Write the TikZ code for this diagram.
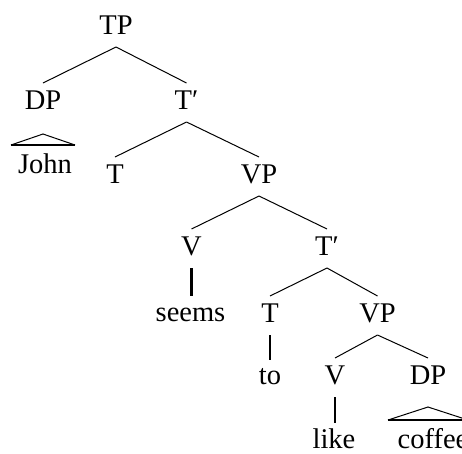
\documentclass[tikz,border=0pt]{standalone}
\usepackage{fontspec}
\setmainfont{Liberation Serif}
\usetikzlibrary{calc}
\newcommand{\lblfont}{\fontsize{28.5}{30}\selectfont}
\tikzset{
  lab/.style={anchor=base, inner sep=0pt, font=\lblfont},
  branch/.style={line width=1pt},
  stem/.style={line width=2.3pt},
  roofside/.style={line width=1pt},
  roofbase/.style={line width=2pt},
}
\begin{document}
\begin{tikzpicture}[x=1pt,y=-1pt]
\useasboundingbox (0,0) rectangle (462,453);
\clip (0,0) rectangle (462,453);
% nodes
\node[lab] (TP)    at (116,34)    {TP};
\node[lab] (DPa)   at (43,109)    {DP};
\node[lab] (Tba)   at (186.5,109) {T′};
\node[lab] (John)  at (45,173)    {John};
\node[lab] (Ta)    at (115,183)   {T};
\node[lab] (VPa)   at (259,183)   {VP};
\node[lab] (Va)    at (191.5,255) {V};
\node[lab] (Tbb)   at (327,255)   {T′};
\node[lab] (seems) at (190.5,321) {seems};
\node[lab] (Tb)    at (270,322)   {T};
\node[lab] (VPb)   at (377.5,322) {VP};
\node[lab] (to)    at (270,384.5) {to};
\node[lab] (Vb)    at (335,384)   {V};
\node[lab] (DPb)   at (428,384)   {DP};
\node[lab] (like)  at (334,448)   {like};
\node[lab] (coffee) at (433,448)  {coffee};
% branches
\foreach \p/\c in {TP/DPa, TP/Tba, Tba/Ta, Tba/VPa, VPa/Va, VPa/Tbb, Tbb/Tb, Tbb/VPb, VPb/Vb, VPb/DPb}{
  \draw[branch] ([yshift=-13pt]\p.base) -- ([yshift=26pt]\c.base);
}
% unary stems (kept vertical under the parent)
\foreach \p/\c in {Va/seems, Tb/to, Vb/like}{
  \draw[stem] ([yshift=-13pt]\p.base) -- ($(\p.base |- \c.base)+(0,-25)$);
}
% roofs
\draw[roofside] ([xshift=-32pt,yshift=-36pt]DPa.base) -- ([yshift=-25pt]DPa.base) -- ([xshift=32pt,yshift=-36pt]DPa.base);
\draw[roofbase] ([xshift=-32pt,yshift=-36pt]DPa.base) -- ([xshift=32pt,yshift=-36pt]DPa.base);
\draw[roofside] ([xshift=-40pt,yshift=-36pt]DPb.base) -- ([yshift=-23pt]DPb.base) -- ([xshift=40pt,yshift=-36pt]DPb.base);
\draw[roofbase] ([xshift=-40pt,yshift=-36pt]DPb.base) -- ([xshift=40pt,yshift=-36pt]DPb.base);
\end{tikzpicture}
\end{document}
